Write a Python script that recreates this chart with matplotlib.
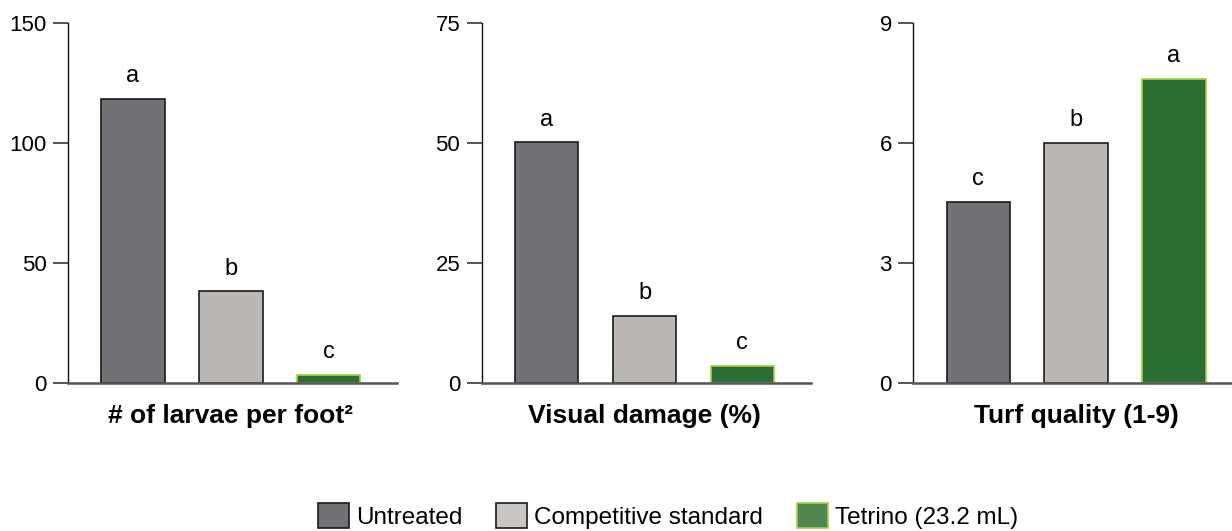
import matplotlib
matplotlib.use("Agg")
import matplotlib.pyplot as plt
import matplotlib.transforms as mtransforms
from matplotlib.patches import Patch

plt.rcParams['font.family'] = ['Liberation Sans', 'DejaVu Sans']

# data
treatments = ['Untreated', 'Competitive standard', 'Tetrino (23.2 mL)']
larvae = [118.4, 38.1, 3.3]
damage = [50.1, 14.0, 3.5]
quality = [4.52, 6.01, 7.61]
larvae_letters = ['a', 'b', 'c']
damage_letters = ['a', 'b', 'c']
quality_letters = ['c', 'b', 'a']
titles = ['# of larvae per foot\u00b2', 'Visual damage (%)', 'Turf quality (1-9)']
yticks = [[0, 50, 100, 150], [0, 25, 50, 75], [0, 3, 6, 9]]

bar_colors = ['#717276', '#bbb7b4', '#2a7034']
edge_colors = ['#1a1a1a', '#1a1a1a', '#a5cf3e']
legend_colors = ['#717276', '#c9c6c4', '#4e8750']

W, H = 1232, 531
fig = plt.figure(figsize=(W / 100, H / 100), dpi=100)

step = 97.8          # px between bar centres
left_px = [68, 481.7, 913.3]
right_px = [397, 810.7, 1232]
y0_px, ytop_px = 382.7, 23

panels = [(larvae, larvae_letters), (damage, damage_letters), (quality, quality_letters)]

for i, (vals, letters) in enumerate(panels):
    l, r = left_px[i], right_px[i]
    ax = fig.add_axes([l / W, (H - y0_px) / H, (r - l) / W, (y0_px - ytop_px) / H])
    x = [0, 1, 2]
    ax.bar(x, vals, width=0.648, color=bar_colors, edgecolor=edge_colors, linewidth=1.2, zorder=2)
    ax.set_xlim(-0.665, -0.665 + (r - l) / step)
    ax.set_ylim(yticks[i][0], yticks[i][-1])
    ax.set_yticks(yticks[i])
    ax.set_xticks([])
    ax.spines['top'].set_visible(False)
    ax.spines['right'].set_visible(False)
    ax.spines['left'].set_linewidth(1.0)
    ax.spines['left'].set_color('#111111')
    ax.spines['bottom'].set_linewidth(1.8)
    ax.spines['bottom'].set_color('#555555')
    ax.spines['bottom'].set_zorder(3)
    ax.tick_params(axis='y', length=11, width=1.4, color='#555555', pad=4.5, labelsize=16)
    for xi, v, lt in zip(x, vals, letters):
        ax.annotate(lt, (xi, v), xytext=(0, 12), textcoords='offset points',
                    ha='center', va='baseline', fontsize=17)
    trans = mtransforms.blended_transform_factory(ax.transData, fig.transFigure)
    ax.text(1, (H - 416) / H, titles[i], transform=trans, ha='center', va='center',
            fontsize=19, fontweight='bold')

handles = [Patch(facecolor=c, edgecolor=e, linewidth=1.2) for c, e in zip(legend_colors, edge_colors)]
fig.legend(handles, treatments, loc='center', bbox_to_anchor=(668 / W, (H - 516) / H),
           ncol=3, frameon=False, fontsize=17.5, handlelength=1.26, handleheight=1.2,
           handletextpad=0.3, columnspacing=1.4, borderpad=0, borderaxespad=0)

fig.savefig('out.png', dpi=100)
